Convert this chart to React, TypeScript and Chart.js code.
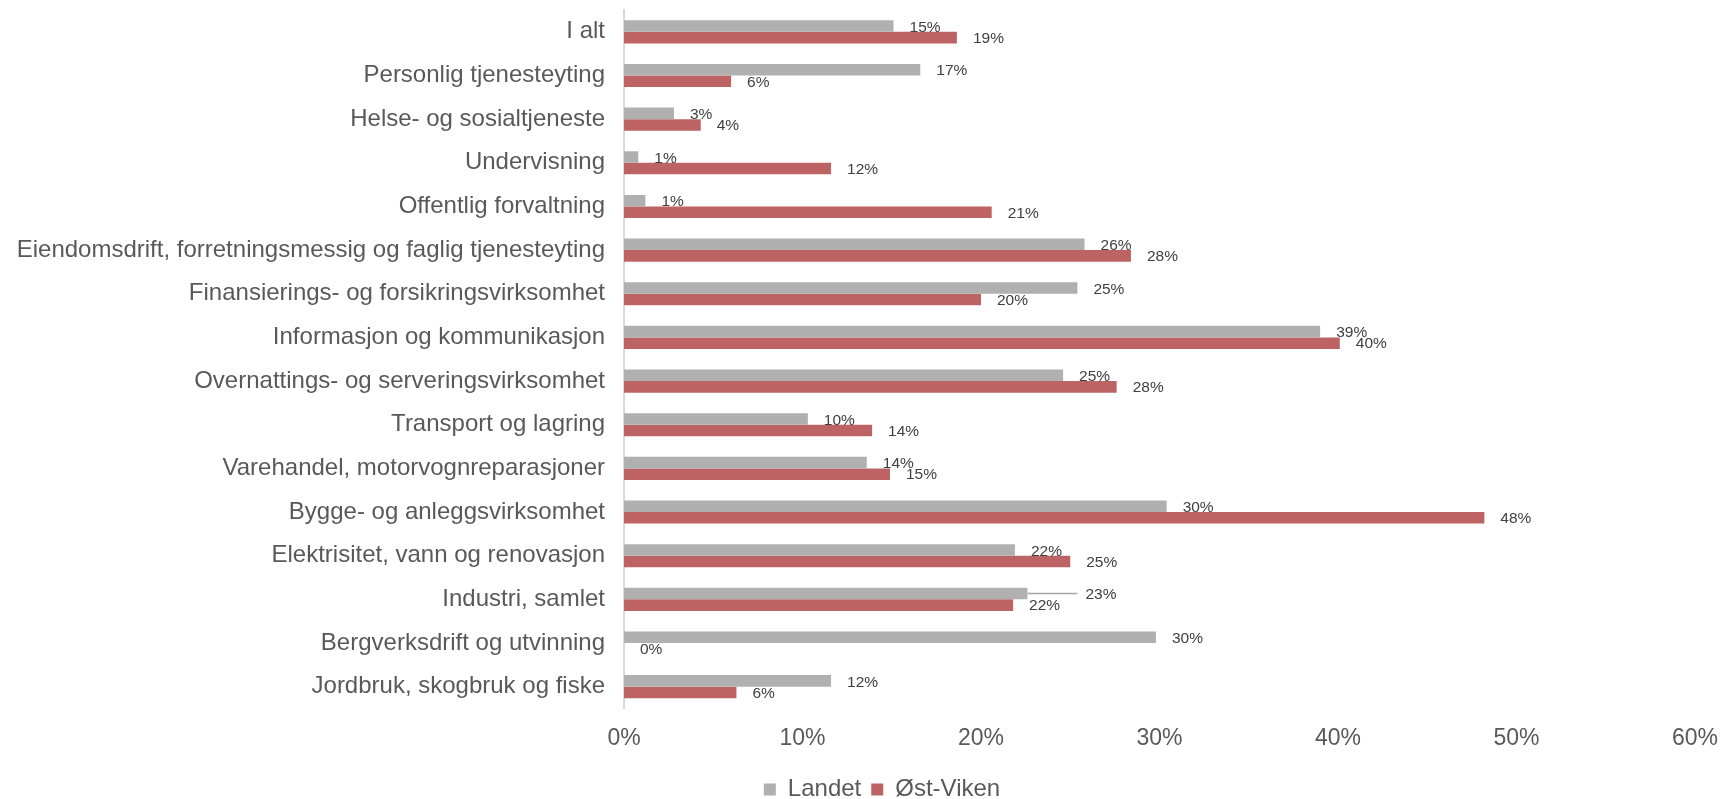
import React, { useEffect, useRef } from 'react';
import { Chart, registerables } from 'chart.js';

Chart.register(...registerables);

const categories = [
  'I alt',
  'Personlig tjenesteyting',
  'Helse- og sosialtjeneste',
  'Undervisning',
  'Offentlig forvaltning',
  'Eiendomsdrift, forretningsmessig og faglig tjenesteyting',
  'Finansierings- og forsikringsvirksomhet',
  'Informasjon og kommunikasjon',
  'Overnattings- og serveringsvirksomhet',
  'Transport og lagring',
  'Varehandel, motorvognreparasjoner',
  'Bygge- og anleggsvirksomhet',
  'Elektrisitet, vann og renovasjon',
  'Industri, samlet',
  'Bergverksdrift og utvinning',
  'Jordbruk, skogbruk og fiske',
];

const landet = [15.1, 16.6, 2.8, 0.8, 1.2, 25.8, 25.4, 39.0, 24.6, 10.3, 13.6, 30.4, 21.9, 22.6, 29.8, 11.6];
const ostViken = [18.65, 6.0, 4.3, 11.6, 20.6, 28.4, 20.0, 40.1, 27.6, 13.9, 14.9, 48.2, 25.0, 21.8, 0, 6.3];

const seriesNames = ['Landet', 'Øst-Viken'];
const seriesColors = ['#b0b0b0', '#bd6363'];
const xMin = 0;
const xMax = 60;
const xStep = 10;

const FONT = "'Liberation Sans', Arial, sans-serif";

const dataLabelsPlugin = {
  id: 'dataLabels',
  afterDatasetsDraw(chart: any, _args: any, opts: any) {
    const ctx = chart.ctx;
    ctx.save();
    ctx.font = `${opts.size}px ${FONT}`;
    ctx.fillStyle = opts.color;
    ctx.textBaseline = 'middle';
    ctx.textAlign = 'left';
    chart.data.datasets.forEach((ds: any, di: number) => {
      const meta = chart.getDatasetMeta(di);
      meta.data.forEach((bar: any, i: number) => {
        const v = ds.data[i];
        let x = bar.x + opts.gap;
        const y = bar.y + (opts.dy[di] || 0);
        const shift = (opts.shifts || []).find((s: any) => s.d === di && s.i === i);
        if (shift) {
          ctx.save();
          ctx.strokeStyle = '#a6a6a6';
          ctx.lineWidth = 1.5;
          ctx.beginPath();
          ctx.moveTo(bar.x, bar.y);
          ctx.lineTo(x + shift.dx - 8, bar.y);
          ctx.stroke();
          ctx.restore();
          x += shift.dx;
        }
        ctx.fillText(Math.round(v) + '%', x, y);
      });
    });
    ctx.restore();
  },
};

const legendShiftPlugin = {
  id: 'legendShift',
  afterLayout(chart: any, _args: any, opts: any) {
    const l = chart.legend;
    if (l) {
      l.left += opts.dx;
      l.right += opts.dx;
    }
  },
};

export default function App() {
  const ref = useRef<HTMLCanvasElement | null>(null);

  useEffect(() => {
    if (!ref.current) return;
    const chart = new Chart(ref.current, {
      type: 'bar',
      data: {
        labels: categories,
        datasets: [
          { label: seriesNames[0], data: landet, backgroundColor: seriesColors[0], categoryPercentage: 0.53, barPercentage: 1 },
          { label: seriesNames[1], data: ostViken, backgroundColor: seriesColors[1], categoryPercentage: 0.53, barPercentage: 1 },
        ],
      },
      options: {
        indexAxis: 'y',
        animation: false,
        responsive: false,
        devicePixelRatio: 1,
        layout: { padding: { top: 10, right: 30, bottom: -12.5, left: 0 } },
        scales: {
          x: {
            min: xMin,
            max: xMax,
            ticks: {
              stepSize: xStep,
              callback: (v: any) => v + '%',
              font: { size: 23, family: FONT },
              color: '#595959',
              padding: 16,
            },
            grid: { display: false, drawTicks: false },
            border: { display: false },
            afterFit: (s: any) => {
              s.height = 59;
            },
          },
          y: {
            ticks: {
              font: { size: 24, family: FONT },
              color: '#595959',
              padding: 19,
              autoSkip: false,
            },
            grid: { display: false, drawTicks: false },
            border: { display: true, color: '#d9d9d9', width: 2 },
            afterFit: (s: any) => {
              s.width = 624;
              s.paddingTop = 0;
              s.paddingBottom = 0;
            },
          },
        },
        plugins: {
          legend: {
            position: 'bottom',
            labels: {
              boxWidth: 12,
              boxHeight: 12,
              font: { size: 24, family: FONT },
              color: '#595959',
              padding: 10,
            },
          },
          tooltip: { enabled: false },
          legendShift: { dx: 30 },
          dataLabels: {
            size: 15.5,
            color: '#404040',
            gap: 16,
            dy: [1.5, 1],
            shifts: [{ d: 0, i: 13, dx: 42 }],
          },
        } as any,
      },
      plugins: [dataLabelsPlugin, legendShiftPlugin],
    } as any);
    return () => chart.destroy();
  }, []);

  return (
    <div style={{ position: 'absolute', left: 0, top: 0, width: 1734, height: 799 }}>
      <canvas ref={ref} width={1734} height={799} style={{ display: 'block' }} />
    </div>
  );
}
